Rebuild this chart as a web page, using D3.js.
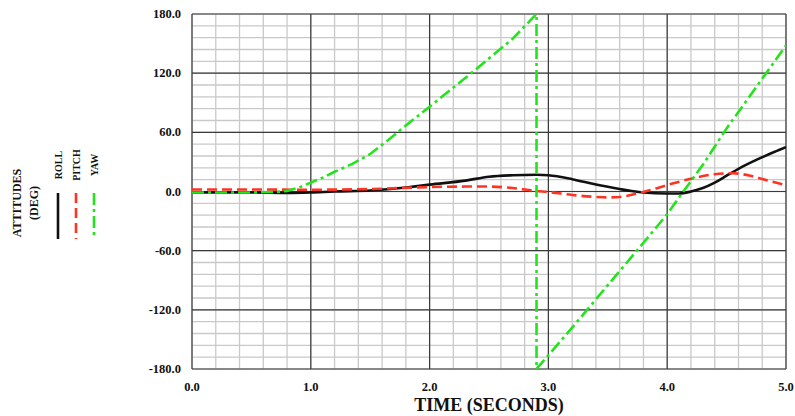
<!DOCTYPE html>
<html>
<head>
<meta charset="utf-8">
<script src="https://cdn.jsdelivr.net/npm/d3@7"></script>
<style>
  body { margin: 0; background: #fff; }
  text { font-family: "Liberation Serif", "DejaVu Serif", serif; font-weight: bold; fill: #111; }
</style>
</head>
<body>
<svg id="chart" width="795" height="416"></svg>
<script>
// time ticks and attitude ticks
const xTicks = [0, 1, 2, 3, 4, 5];
const yTicks = [-180, -120, -60, 0, 60, 120, 180];

// roll (deg)
const rollT = [0, 0.5, 0.8, 1.0, 1.2, 1.5, 1.8, 2.0, 2.3, 2.5, 2.7, 2.9, 3.0, 3.2, 3.4, 3.6, 3.7, 3.8, 4.0, 4.1, 4.2, 4.3, 4.4, 4.5, 4.6, 4.75, 4.9, 5.0];
const rollV = [-1, -1, -1.5, -1, 0, 1, 4, 7, 11, 15, 16.5, 17, 16.5, 12.5, 7, 2.5, 0.5, -1, -2, -2, 0, 3.5, 9, 16, 23, 32, 40, 45];

// pitch (deg)
const pitchT = [0, 0.5, 1.0, 1.5, 2.0, 2.3, 2.5, 2.7, 2.9, 3.0, 3.2, 3.4, 3.5, 3.6, 3.8, 4.0, 4.2, 4.4, 4.55, 4.7, 4.85, 5.0];
const pitchV = [2, 2, 1.8, 2.5, 4.5, 5, 5, 3.5, 0.5, -0.5, -3.5, -5.5, -6, -5.5, -0.5, 6.5, 13, 17.5, 18.5, 16, 11, 6.5];

// yaw (deg), wraps at 180
const yawT = [0, 0.5, 0.7, 0.8, 0.9, 1.0, 1.1, 1.2, 1.35, 1.5, 1.65, 1.8, 2.0, 2.3, 2.5, 2.7, 2.9, 2.9, 3.2, 3.5, 3.8, 4.0, 4.13, 4.3, 4.5, 4.75, 5.0];
const yawV = [-1, -1, -0.5, 0.5, 4, 9, 14, 20, 28, 38, 52, 67, 86, 115, 135, 155, 180, -180, -138, -95, -52, -23, -1, 27, 64, 106, 148];

const svg = d3.select("#chart");
const pl = 192, pt = 14, pr = 786, pb = 369;

const x = d3.scaleLinear().domain([0, 5]).range([pl, pr]);
const y = d3.scaleLinear().domain([-180, 180]).range([pb, pt]);

const g = svg.append("g");

// minor grid
g.selectAll(".vminor")
  .data(d3.range(0, 5.001, 0.2))
  .enter().append("line")
  .attr("x1", d => x(d)).attr("x2", d => x(d))
  .attr("y1", pt).attr("y2", pb)
  .attr("stroke", "#c9c9c9").attr("stroke-width", 1.3);
g.selectAll(".hminor")
  .data(d3.range(-180, 180.001, 12))
  .enter().append("line")
  .attr("y1", d => y(d)).attr("y2", d => y(d))
  .attr("x1", pl).attr("x2", pr)
  .attr("stroke", "#c9c9c9").attr("stroke-width", 1.3);

// major grid
g.selectAll(".vmajor")
  .data(xTicks)
  .enter().append("line")
  .attr("x1", d => x(d)).attr("x2", d => x(d))
  .attr("y1", pt).attr("y2", pb)
  .attr("stroke", "#3a3a3a").attr("stroke-width", 1.2);
g.selectAll(".hmajor")
  .data(yTicks)
  .enter().append("line")
  .attr("y1", d => y(d)).attr("y2", d => y(d))
  .attr("x1", pl).attr("x2", pr)
  .attr("stroke", "#3a3a3a").attr("stroke-width", 1.2);

// axis labels
g.selectAll(".ylab")
  .data(yTicks)
  .enter().append("text")
  .attr("x", 181).attr("y", d => y(d) + 4)
  .attr("text-anchor", "end")
  .attr("font-size", 12.5)
  .text(d => d.toFixed(1));
g.selectAll(".xlab")
  .data(xTicks)
  .enter().append("text")
  .attr("x", d => x(d)).attr("y", 391)
  .attr("text-anchor", "middle")
  .attr("font-size", 12.5)
  .text(d => d.toFixed(1));

svg.append("text")
  .attr("x", 489).attr("y", 411)
  .attr("text-anchor", "middle")
  .attr("font-size", 18)
  .text("TIME (SECONDS)");

// curves
svg.append("clipPath").attr("id", "plot")
  .append("rect").attr("x", pl).attr("y", pt - 2).attr("width", pr - pl).attr("height", pb - pt + 4);

const smooth = d3.line().x(d => x(d[0])).y(d => y(d[1])).curve(d3.curveMonotoneX);
const straight = d3.line().x(d => x(d[0])).y(d => y(d[1]));

const series = [
  { name: "ROLL", pts: d3.zip(rollT, rollV), color: "#111", dash: null, gen: smooth },
  { name: "PITCH", pts: d3.zip(pitchT, pitchV), color: "#ff3322", dash: "10,5", gen: smooth },
  { name: "YAW", pts: d3.zip(yawT, yawV), color: "#22e41a", dash: "12,4,3,4", gen: straight }
];

const lines = svg.append("g").attr("clip-path", "url(#plot)");
lines.selectAll("path")
  .data(series)
  .enter().append("path")
  .attr("d", d => d.gen(d.pts))
  .attr("fill", "none")
  .attr("stroke", d => d.color)
  .attr("stroke-width", 2.6)
  .attr("stroke-dasharray", d => d.dash);

// legend
const leg = svg.append("g");
leg.append("text")
  .attr("transform", "translate(21,203) rotate(-90)")
  .attr("text-anchor", "middle").attr("font-size", 12)
  .text("ATTITUDES");
leg.append("text")
  .attr("transform", "translate(38,203) rotate(-90)")
  .attr("text-anchor", "middle").attr("font-size", 12)
  .text("(DEG)");

const lx = [58, 76, 94];
const item = leg.selectAll(".item")
  .data(series)
  .enter().append("g")
  .attr("transform", (d, i) => `translate(${lx[i]},0)`);
item.append("text")
  .attr("transform", "translate(3.5,165) rotate(-90)")
  .attr("text-anchor", "middle").attr("font-size", 10)
  .text(d => d.name);
item.append("line")
  .attr("x1", 0).attr("x2", 0).attr("y1", 193).attr("y2", 239)
  .attr("stroke", d => d.color)
  .attr("stroke-width", 2.6)
  .attr("stroke-dasharray", d => d.dash);
</script>
</body>
</html>
